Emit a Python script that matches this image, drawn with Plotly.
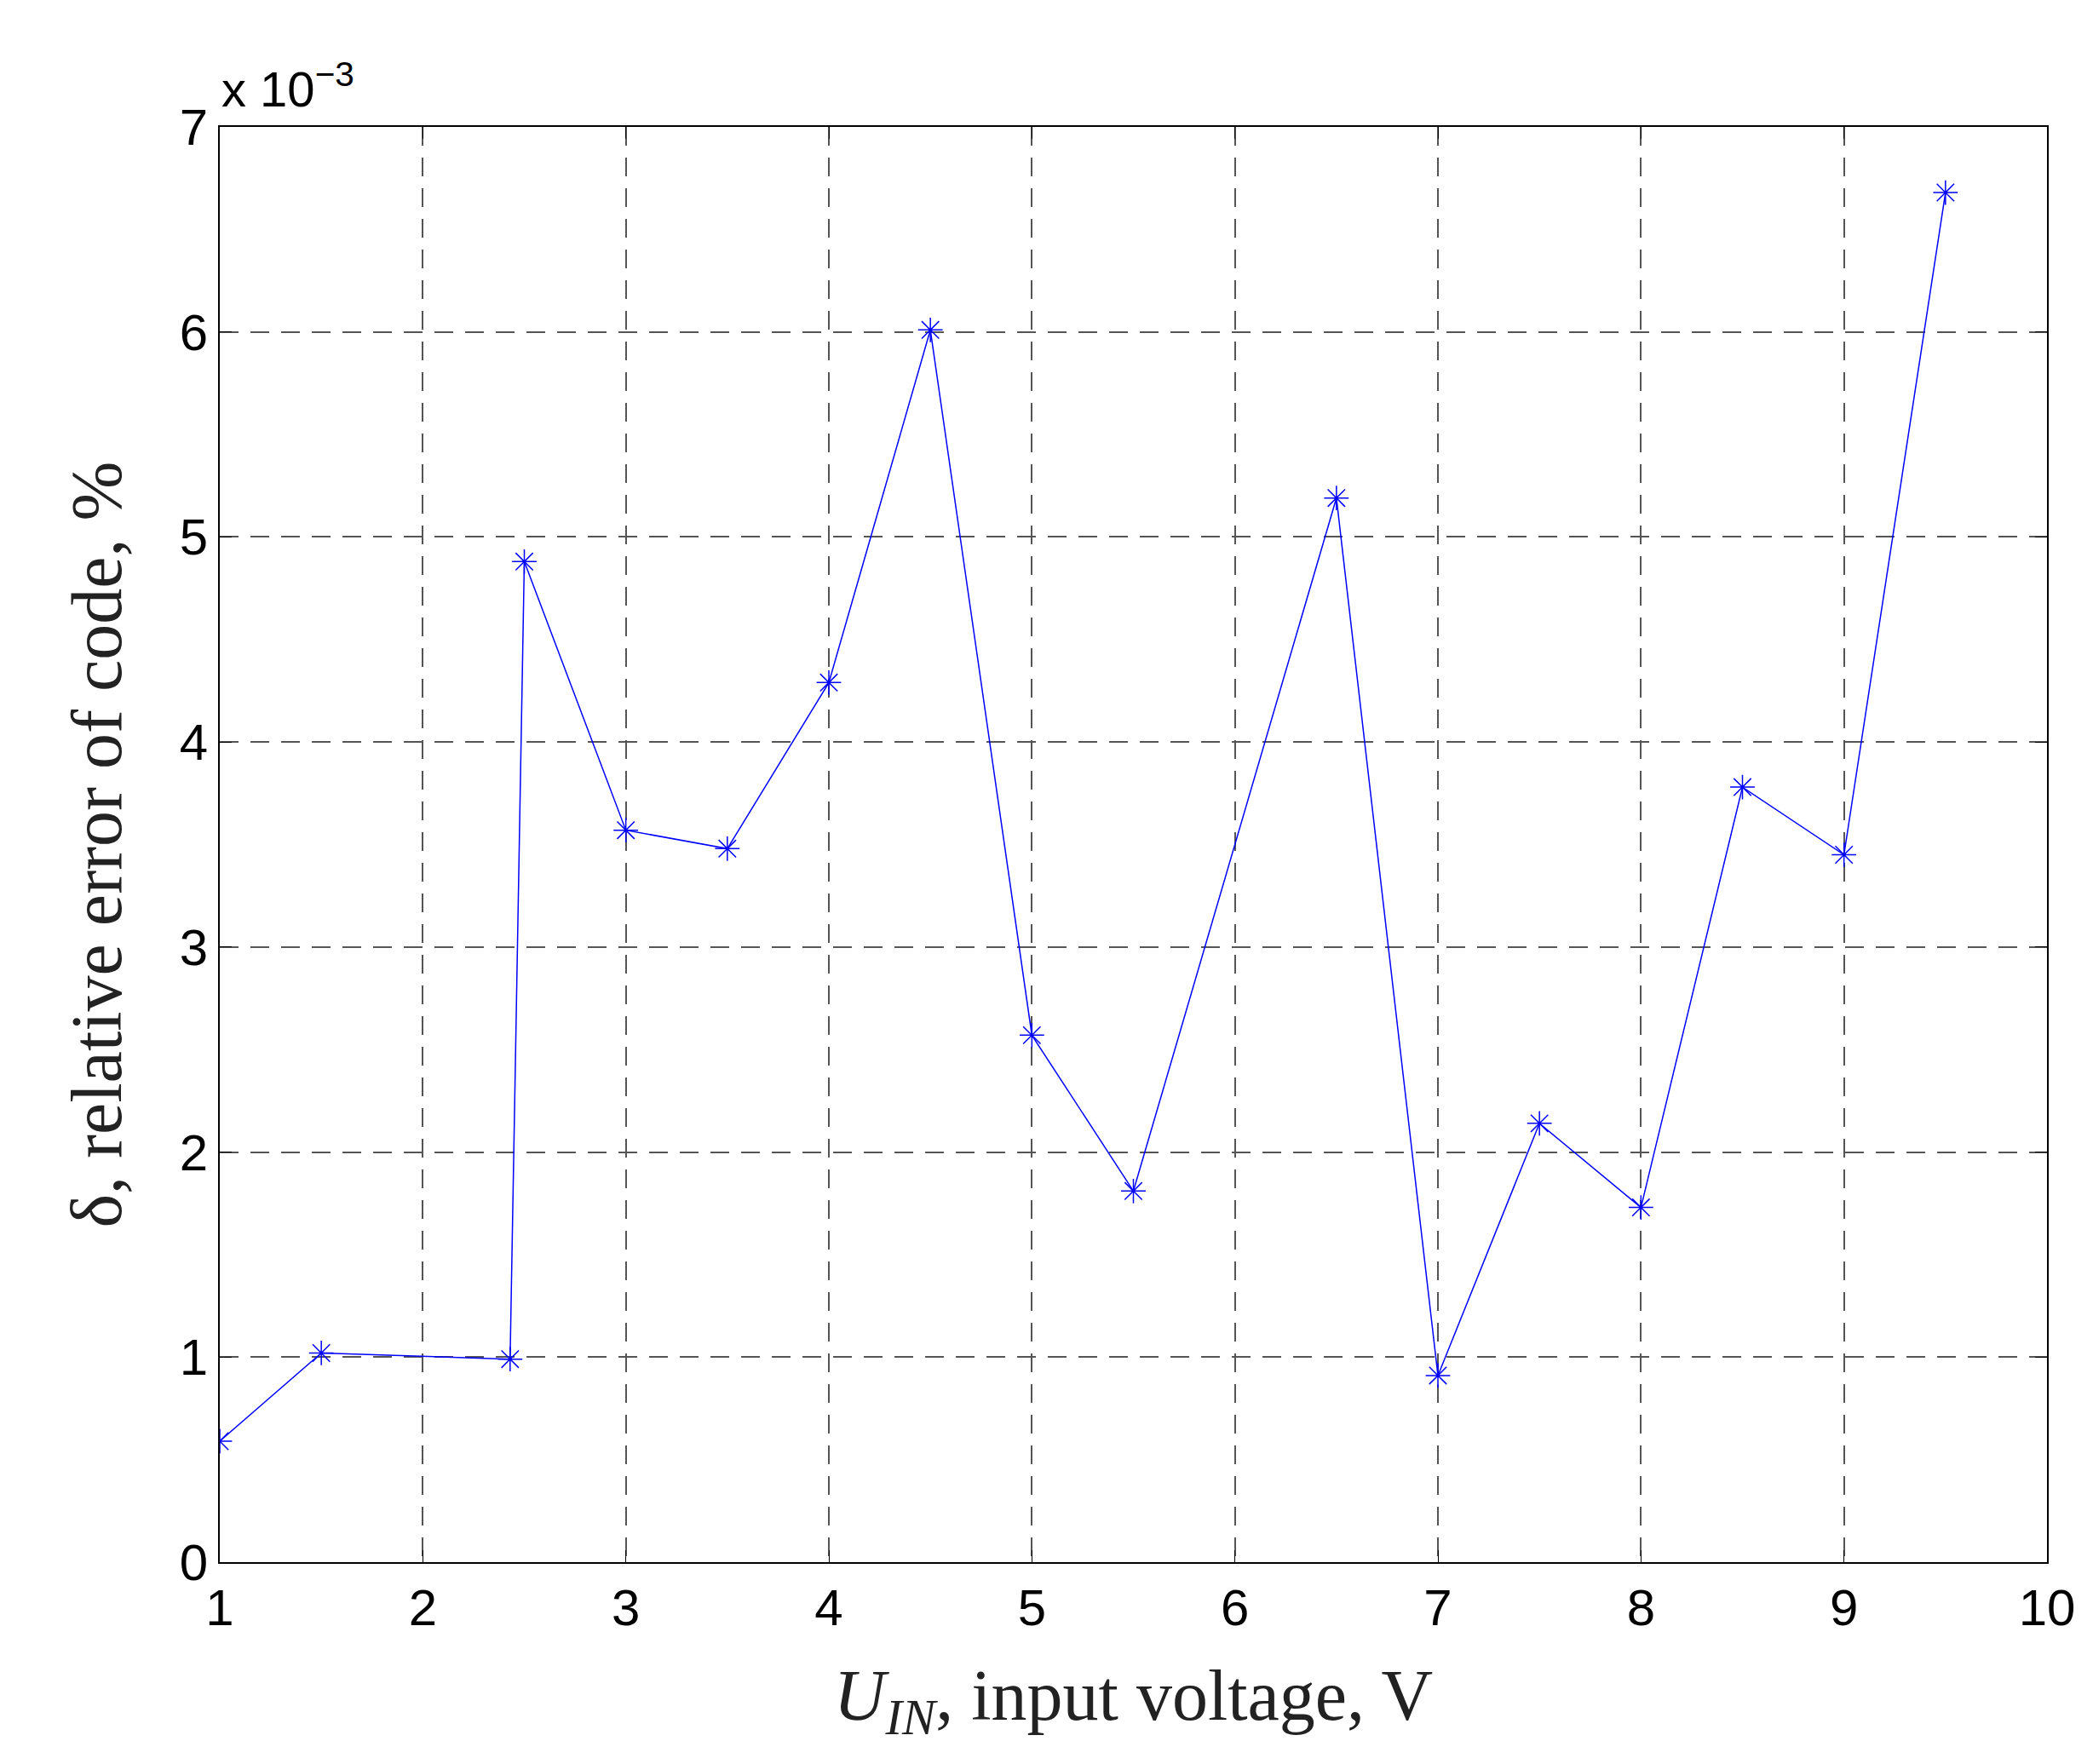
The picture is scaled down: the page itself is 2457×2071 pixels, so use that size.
import plotly.graph_objects as go

u_in = [1, 1.5, 2.43, 2.5, 3, 3.5, 4, 4.5, 5, 5.5, 6.5, 7, 7.5, 8, 8.5, 9, 9.5]
delta_e3 = [0.59, 1.02, 0.99, 4.88, 3.57, 3.48, 4.29, 6.01, 2.57, 1.81, 5.19, 0.91, 2.14, 1.73, 3.78, 3.45, 6.68]
x_ticks = list(range(1, 11))
y_ticks = list(range(0, 8))

fig = go.Figure(go.Scatter(
    x=u_in, y=delta_e3, mode="lines+markers",
    line=dict(color="#0000ff", width=1.5),
    marker=dict(symbol="asterisk-open", size=24, color="#0000ff", line=dict(width=1.5, color="#0000ff")),
))
axis_common = dict(showline=True, linecolor="black", linewidth=2, mirror="ticks", ticks="inside",
                   ticklen=14, tickcolor="black", showgrid=True, gridcolor="#555555", griddash="22px,14px",
                   gridwidth=1.8, zeroline=False,
                   tickfont=dict(family="Liberation Sans, Arial", size=60, color="black"))
fig.update_xaxes(range=[1, 10], tickvals=x_ticks, **axis_common,
                 title=dict(text="<i>U<sub>IN</sub></i>, input voltage, V",
                            font=dict(family="Liberation Serif, Times New Roman", size=84, color="#222"), standoff=40))
fig.update_yaxes(range=[0, 7], tickvals=y_ticks, **axis_common,
                 title=dict(text="δ, relative error of code, %",
                            font=dict(family="Liberation Serif, Times New Roman", size=84, color="#222"), standoff=40))
fig.add_annotation(xref="paper", yref="paper", x=0, y=1.0, xanchor="left", yanchor="bottom", showarrow=False,
                   text="x 10<sup>−3</sup>", font=dict(family="Liberation Sans, Arial", size=58, color="black"), yshift=10)
fig.update_layout(width=2457, height=2071, plot_bgcolor="white", paper_bgcolor="white", showlegend=False,
                  margin=dict(l=250, r=62, t=141, b=245))
fig.write_html("out.html")
